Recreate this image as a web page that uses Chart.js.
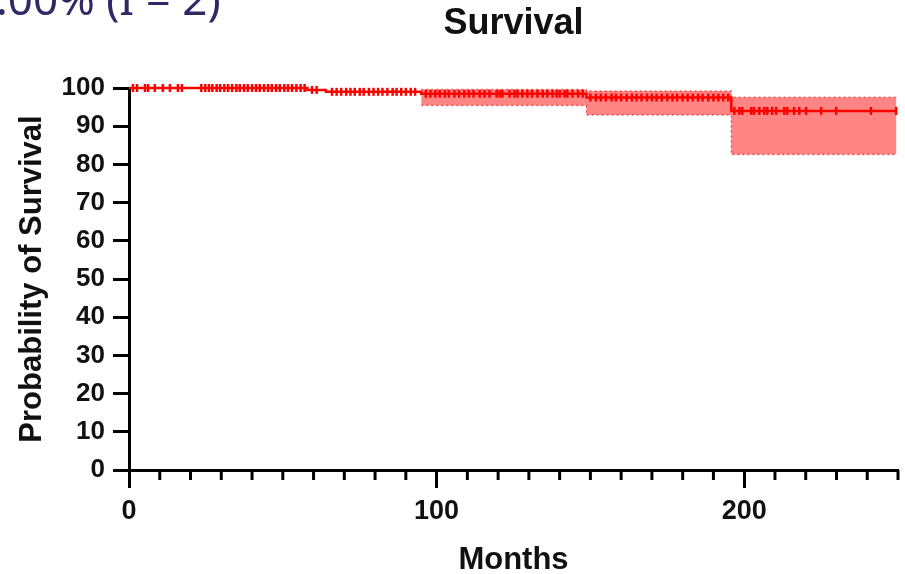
<!DOCTYPE html>
<html>
<head>
<meta charset="utf-8">
<script src="https://cdn.jsdelivr.net/npm/chart.js@4.4.1/dist/chart.umd.min.js"></script>
<style>
  html, body { margin: 0; padding: 0; background: #fff; }
  #wrap { position: relative; width: 905px; height: 574px; overflow: hidden; }
  #cut {
    position: absolute; left: -4px; top: -24px;
    font: 44px "Noto Sans", sans-serif; line-height: 1;
    color: #2e2a66; white-space: pre;
  }
</style>
</head>
<body>
<div id="wrap">
  <canvas id="survivalChart" width="905" height="574"></canvas>
  <div id="cut">.00% (I = 2)</div>
</div>
<script>
// Kaplan-Meier steps (months, % surviving)
const kmTimes = [0, 58, 64, 95, 148.7, 195.8, 249.5];
const kmSurvival = [100, 99.5, 99.0, 98.5, 97.5, 94.0, 94.0];

// 95% confidence band, only visible from ~95 months on
const ciTimes = [95, 148.7, 195.8, 249.5];
const ciUpper = [99.6, 99.2, 97.6, 97.6];
const ciLower = [95.4, 92.9, 82.6, 82.6];

// censored observations (tick marks on the curve)
const censorTimes = [
  1.3, 2.6, 5.2, 6.2, 8.4, 11, 13.3, 15.9, 17.2,
  23.5, 24.8, 26, 27.1, 28.5, 29.6, 31, 32.2, 33.5, 34.9, 36, 37.4, 38.6, 40,
  41.3, 42.5, 43.9, 45.2, 46.4, 47.8, 49, 50.5, 51.7, 53, 54.4, 55.8, 57.1,
  59.5, 61, 66, 67.5, 69, 70.6, 72, 73.4, 75, 76.3, 78, 79.5, 81, 82.4, 84,
  85.7, 87, 88.5, 90, 91.6, 93,
  96.5, 98, 99.6, 101, 102.7, 104, 105.8, 107.3, 109, 110.5, 112, 114, 115.6,
  117.2, 119.5, 120.5, 121.4, 123.7, 125.3, 126.3, 127.9, 129.5, 131, 132.8,
  134.5, 136, 137.7, 139, 140, 141.6, 142.5, 144.2, 146, 147.5,
  150, 151.8, 153.4, 155, 156.9, 158.3, 160, 161.8, 163.5, 165, 166.6, 168.4,
  170, 171.5, 173.2, 175, 176.7, 178.2, 180, 181.6, 183.3, 185, 186.5, 188.3,
  190, 191.6, 193.2, 194.8,
  196.8, 198.4, 199.4, 202.3, 203.2, 204.9, 206.5, 207.5, 209.1, 210.4, 213,
  214, 216.2, 217.9, 220.1, 225, 229.9, 241.2, 249.4
];

const chartTitle = 'Survival';
const xTitle = 'Months';
const yTitle = 'Probability of Survival';
const xMin = 0, xMax = 250, xStep = 10, xLabelEvery = 100;
const yMin = 0, yMax = 100, yStep = 10;

function survivalAt(t) {
  let s = kmSurvival[0];
  for (let i = 0; i < kmTimes.length; i++) {
    if (kmTimes[i] <= t) s = kmSurvival[i];
  }
  return s;
}

const kmData = kmTimes.map((t, i) => ({ x: t, y: kmSurvival[i] }));
const upperData = ciTimes.map((t, i) => ({ x: t, y: ciUpper[i] }));
const lowerData = ciTimes.map((t, i) => ({ x: t, y: ciLower[i] }));
const censorData = censorTimes.map(t => ({ x: t, y: survivalAt(t) }));

const RED = '#ff0000';
const FONT = '"Liberation Sans", Arial, Helvetica, sans-serif';

// small ticks between the labelled ones on the x axis
const minorTicks = {
  id: 'minorTicks',
  afterDraw(chart) {
    const scale = chart.scales.x;
    const ctx = chart.ctx;
    ctx.save();
    ctx.strokeStyle = '#000';
    ctx.lineWidth = 3;
    scale.ticks.forEach(t => {
      if (t.value % xLabelEvery === 0) return;
      const px = scale.getPixelForValue(t.value);
      ctx.beginPath();
      ctx.moveTo(px, scale.top);
      ctx.lineTo(px, scale.top + 10);
      ctx.stroke();
    });
    ctx.restore();
  }
};

new Chart(document.getElementById('survivalChart'), {
  type: 'line',
  data: {
    datasets: [
      {
        label: 'upper',
        data: upperData,
        stepped: true,
        borderColor: 'rgba(215,0,0,0.55)',
        borderDash: [2, 3],
        borderWidth: 1.5,
        pointRadius: 0,
        fill: false,
        order: 3
      },
      {
        label: 'lower',
        data: lowerData,
        stepped: true,
        borderColor: 'rgba(215,0,0,0.55)',
        borderDash: [2, 3],
        borderWidth: 1.5,
        pointRadius: 0,
        backgroundColor: 'rgba(255,0,0,0.48)',
        fill: { target: 0 },
        order: 2
      },
      {
        label: 'Survival',
        data: kmData,
        stepped: true,
        borderColor: RED,
        borderWidth: 2.5,
        pointRadius: 0,
        fill: false,
        clip: 8,
        order: 1
      },
      {
        label: 'Censored',
        data: censorData,
        showLine: false,
        pointStyle: 'line',
        rotation: 90,
        pointRadius: 4,
        pointBorderWidth: 2.5,
        pointBorderColor: RED,
        pointBackgroundColor: RED,
        clip: false,
        order: 0
      }
    ]
  },
  options: {
    responsive: false,
    animation: false,
    layout: { padding: { left: 0, right: 5, top: 0, bottom: 0 } },
    plugins: {
      legend: { display: false },
      tooltip: { enabled: false },
      title: {
        display: true,
        text: chartTitle,
        fullSize: false,
        color: '#111',
        font: { family: FONT, size: 36, weight: 'bold', lineHeight: 1 },
        padding: { top: 6, bottom: 46 }
      }
    },
    scales: {
      x: {
        type: 'linear',
        min: xMin,
        max: xMax,
        afterFit: s => { s.height = 104; },
        border: { display: true, color: '#000', width: 3 },
        grid: {
          drawOnChartArea: false,
          drawTicks: true,
          tickLength: 18,
          tickWidth: 3,
          tickColor: c => (c.tick && c.tick.value % xLabelEvery === 0) ? '#000' : 'rgba(0,0,0,0)'
        },
        ticks: {
          stepSize: xStep,
          autoSkip: false,
          maxRotation: 0,
          padding: 7,
          color: '#111',
          font: { family: FONT, size: 27, weight: 'bold' },
          callback: v => (v % xLabelEvery === 0 ? v : '')
        },
        title: {
          display: true,
          text: xTitle,
          color: '#111',
          font: { family: FONT, size: 31, weight: 'bold', lineHeight: 1 },
          padding: { top: 0, bottom: -2 }
        }
      },
      y: {
        min: yMin,
        max: yMax,
        afterFit: s => { s.width = 129; },
        border: { display: true, color: '#000', width: 3 },
        grid: {
          drawOnChartArea: false,
          drawTicks: true,
          tickLength: 16,
          tickWidth: 3,
          tickColor: '#000'
        },
        ticks: {
          stepSize: yStep,
          padding: 8,
          color: '#111',
          font: { family: FONT, size: 26, weight: 'bold' }
        },
        title: {
          display: true,
          text: yTitle,
          color: '#111',
          font: { family: FONT, size: 31, weight: 'bold', lineHeight: 1 },
          padding: { top: 17, bottom: 0 }
        }
      }
    }
  },
  plugins: [minorTicks]
});
</script>
</body>
</html>
